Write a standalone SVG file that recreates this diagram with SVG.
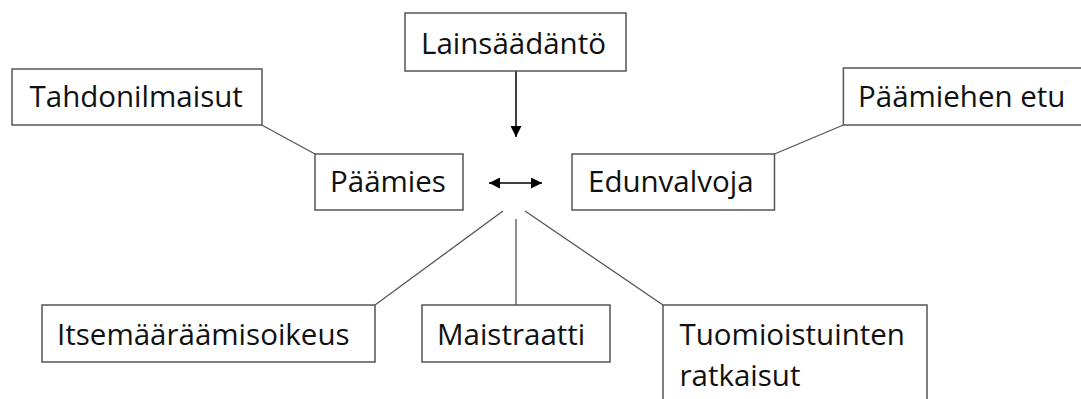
<svg xmlns="http://www.w3.org/2000/svg" width="1081" height="399" viewBox="0 0 1081 399">
<style>
.box{fill:#fff;stroke:#555;stroke-width:1.5}
.t{font-family:"Open Sans","Liberation Sans",sans-serif;font-size:29.5px;fill:#111}
.ln{stroke:#555;stroke-width:1.3;fill:none}
.ar{stroke:#000;stroke-width:1.5;fill:none}
</style>
<defs>
<marker id="ah" viewBox="0 0 11 11" refX="11" refY="5.5" markerWidth="11" markerHeight="11" markerUnits="userSpaceOnUse" orient="auto-start-reverse">
<path d="M0,0 L11,5.5 L0,11 Z" fill="#000"/>
</marker>
</defs>
<rect width="1081" height="399" fill="#fff"/>
<g id="connectors">
<line class="ln" x1="261.7" y1="125" x2="315" y2="154"/>
<line class="ln" x1="774.5" y1="154" x2="843.4" y2="125"/>
<line class="ln" x1="503" y1="211" x2="375" y2="305"/>
<line class="ln" x1="516" y1="219" x2="516" y2="305"/>
<line class="ln" x1="525" y1="211" x2="663" y2="305"/>
<line class="ar" x1="516" y1="71" x2="516" y2="137" marker-end="url(#ah)"/>
<line class="ar" x1="489" y1="183" x2="542" y2="183" marker-start="url(#ah)" marker-end="url(#ah)"/>
</g>
<g id="lainsaadanto"><rect class="box" x="405" y="13" width="221" height="58"/><text class="t" x="421" y="54">Lainsäädäntö</text></g>
<g id="tahdonilmaisut"><rect class="box" x="12" y="69" width="250" height="56"/><text class="t" x="29.5" y="107">Tahdonilmaisut</text></g>
<g id="paamies"><rect class="box" x="315" y="154" width="148" height="56"/><text class="t" x="330" y="192">Päämies</text></g>
<g id="edunvalvoja"><rect class="box" x="572" y="154" width="202.5" height="56"/><text class="t" x="588" y="192">Edunvalvoja</text></g>
<g id="paamiehen-etu"><rect class="box" x="843.4" y="68" width="260" height="57"/><text class="t" x="858" y="107">Päämiehen etu</text></g>
<g id="itsemaaraamisoikeus"><rect class="box" x="42" y="305" width="333" height="57"/><text class="t" x="57" y="345">Itsemääräämisoikeus</text></g>
<g id="maistraatti"><rect class="box" x="422" y="305" width="188" height="57"/><text class="t" x="437" y="345">Maistraatti</text></g>
<g id="tuomioistuinten"><rect class="box" x="663" y="305" width="264" height="110"/><text class="t" x="679.5" y="345">Tuomioistuinten</text><text class="t" x="679.5" y="386">ratkaisut</text></g>
</svg>
